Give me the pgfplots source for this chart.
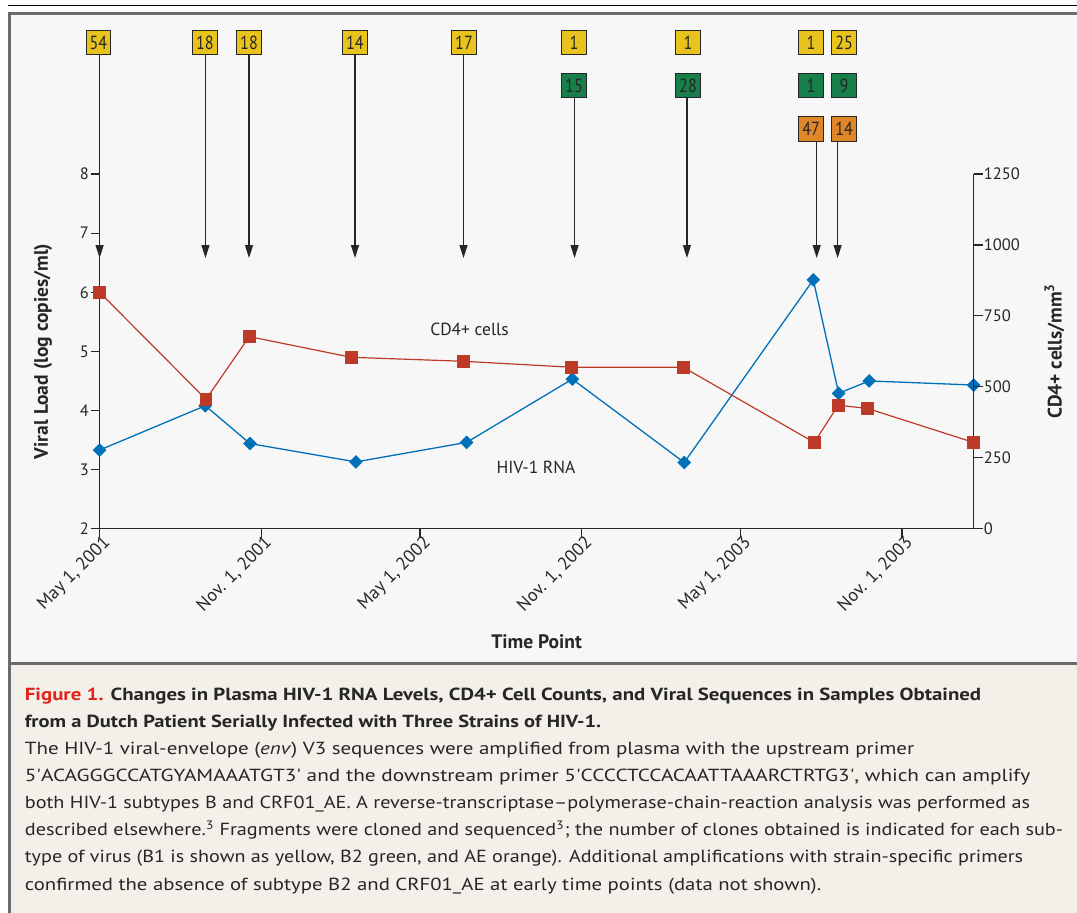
\documentclass[border=0pt]{standalone}
\usepackage{fontspec}
\setmainfont{PT Sans}
\newfontfamily\condfont[FakeStretch=0.85]{PT Sans}
\usepackage{graphicx}
\usepackage{pgfplots}
\usepackage{pgfplotstable}
\pgfplotsset{compat=1.18}
\usetikzlibrary{arrows.meta}

\definecolor{panelbg}{HTML}{F7F7F7}
\definecolor{capbg}{HTML}{F3EFE9}
\definecolor{border}{HTML}{6B6B6B}
\definecolor{cdred}{HTML}{BE3A28}
\definecolor{hivblue}{HTML}{0071B9}
\definecolor{byel}{HTML}{E9C31D}
\definecolor{bgreen}{HTML}{177F4A}
\definecolor{borange}{HTML}{DE8628}
\definecolor{figred}{HTML}{E2231A}
\definecolor{txt}{HTML}{262626}

\newcommand\tickfont{\fontsize{16.5bp}{18bp}\selectfont}
\newcommand\xtickfont{\fontsize{18bp}{20bp}\selectfont}
\newcommand\labfont{\bfseries\fontsize{19.5bp}{22bp}\selectfont}
\newcommand\plotfont{\fontsize{17.5bp}{20bp}\selectfont}
\newcommand\boxfont{\condfont\fontsize{19bp}{19bp}\selectfont}
\newcommand\capfont{\fontsize{17.5bp}{20bp}\selectfont}

\newsavebox\capbox
\newlength\caplen
\newcommand\capline[3]{%
  \node[anchor=base west,inner sep=0pt,text=txt] at (24.7bp,#2bp)
  {\sbox\capbox{\capfont #3}\setlength\caplen{\wd\capbox}%
   \pgfmathsetmacro\capsx{(#1-24.7)*1.00375/\caplen}%
   \scalebox{\capsx}[1]{\usebox\capbox}};}

\pgfplotstableread{
d v
0 3.33
120.4 4.08
171.3 3.44
292 3.13
418 3.46
538.4 4.53
665.9 3.12
812.9 6.21
841.8 4.29
876.6 4.50
995.5 4.43
}\hivdata

\pgfplotstableread{
d c
0 833
121.2 456
170.5 677
286.7 604
414.2 590
537.2 569
664.8 569
814 304
841.3 435
874.4 424
995.5 304
}\cddata

\tikzset{
  sbox/.style={draw=txt, line width=0.9bp, minimum width=24.5bp, minimum height=24.5bp,
    inner sep=0pt, font=\boxfont, text=txt},
  arr/.style={line width=1.2bp, draw=txt, -{Triangle[width=8bp,length=13bp]}}
}

\begin{document}
\begin{tikzpicture}
\fill[white] (0,0) rectangle (1077bp,913bp);
\draw[black, line width=1.4bp] (8bp,907.4bp) -- (1077bp,907.4bp);
\fill[border] (8bp,0) rectangle (1077bp,901bp);
\fill[panelbg] (11bp,251bp) rectangle (1077bp,898bp);
\fill[capbg] (11bp,0) rectangle (1077bp,248.3bp);

\begin{axis}[
  at={(99.6bp,384.3bp)}, anchor=south west,
  scale only axis, width=874bp, height=354.7bp,
  xmin=0, xmax=995.5, ymin=2, ymax=8,
  axis x line=bottom, axis y line=left,
  axis line style={-, line width=1.3bp, draw=txt},
  tick align=outside, major tick length=9bp,
  tick style={line width=1.2bp, draw=txt},
  xtick={0,184,365,549,730,914},
  xticklabels={{May 1, 2001},{Nov. 1, 2001},{May 1, 2002},{Nov. 1, 2002},{May 1, 2003},{Nov. 1, 2003}},
  ytick={2,3,4,5,6,7,8},
  ticklabel style={font=\tickfont, text=txt},
  yticklabel style={inner sep=1.5bp},
  xticklabel style={rotate=45, anchor=north east, inner sep=1bp, font=\xtickfont, xshift=5bp, yshift=2bp},
  /pgf/number format/assume math mode=true,
  clip=false,
  xlabel={Time Point},
  xlabel style={at={(axis description cs:0.5,-0.3194)}, anchor=center, font=\labfont, text=txt},
  ylabel={Viral Load (log copies/ml)},
  ylabel style={at={(axis description cs:-0.0647,0.5)}, anchor=center, font=\labfont, text=txt},
]
% arrows
\draw[arr] (axis cs:0,10.013) -- (axis cs:0,6.579);
\draw[arr] (axis cs:120.6,10.013) -- (axis cs:120.6,6.579);
\draw[arr] (axis cs:170.2,10.013) -- (axis cs:170.2,6.579);
\draw[arr] (axis cs:290.9,10.013) -- (axis cs:290.9,6.579);
\draw[arr] (axis cs:414.5,10.013) -- (axis cs:414.5,6.579);
\draw[arr] (axis cs:541,9.285) -- (axis cs:541,6.579);
\draw[arr] (axis cs:669,9.285) -- (axis cs:669,6.579);
\draw[arr] (axis cs:816.8,8.558) -- (axis cs:816.8,6.579);
\draw[arr] (axis cs:840.6,8.558) -- (axis cs:840.6,6.579);
% boxes row 1 (B1, yellow)
\node[sbox, fill=byel] at (axis cs:-1.3,10.224) {54};
\node[sbox, fill=byel] at (axis cs:120,10.224) {18};
\node[sbox, fill=byel] at (axis cs:170.2,10.224) {18};
\node[sbox, fill=byel] at (axis cs:290.9,10.224) {14};
\node[sbox, fill=byel] at (axis cs:415.1,10.224) {17};
\node[sbox, fill=byel] at (axis cs:540.4,10.224) {1};
\node[sbox, fill=byel] at (axis cs:670.2,10.224) {1};
\node[sbox, fill=byel] at (axis cs:810.4,10.224) {1};
\node[sbox, fill=byel] at (axis cs:848,10.224) {25};
% row 2 (B2, green)
\node[sbox, fill=bgreen] at (axis cs:540.4,9.495) {15};
\node[sbox, fill=bgreen] at (axis cs:670.2,9.495) {28};
\node[sbox, fill=bgreen] at (axis cs:810.4,9.495) {1};
\node[sbox, fill=bgreen] at (axis cs:848,9.495) {9};
% row 3 (AE, orange)
\node[sbox, fill=borange] at (axis cs:810.4,8.762) {47};
\node[sbox, fill=borange] at (axis cs:848,8.762) {14};

\addplot[hivblue, line width=1.3bp, mark=square*, mark size=4.2bp,
  mark options={rotate=45, fill=hivblue, draw=hivblue}] table[x=d, y=v] {\hivdata};

\node[font=\plotfont, text=txt] at (axis cs:421.3,5.366) {CD4+ cells};
\node[font=\plotfont, text=txt] at (axis cs:497.1,3.044) {HIV-1 RNA};
\end{axis}

\begin{axis}[
  at={(99.6bp,384.3bp)}, anchor=south west,
  scale only axis, width=874bp, height=354.7bp,
  xmin=0, xmax=995.5, ymin=0, ymax=1250,
  axis y line=right, axis x line=none,
  axis line style={-, line width=1.3bp, draw=txt},
  tick align=outside, major tick length=9bp,
  tick style={line width=1.2bp, draw=txt},
  ytick={0,250,500,750,1000,1250},
  ticklabel style={font=\tickfont, text=txt},
  yticklabel style={inner sep=1bp},
  /pgf/number format/assume math mode=true,
  /pgf/number format/1000 sep={},
  clip=false,
  ylabel={CD4+ cells/mm\textsuperscript{3}},
  ylabel style={at={(axis description cs:1.0926,0.5)}, anchor=center, font=\labfont, text=txt},
]
\addplot[cdred, line width=1.2bp, mark=square*, mark size=5.7bp,
  mark options={fill=cdred, draw=cdred}] table[x=d, y=c] {\cddata};
\end{axis}

\capline{981}{212}{\bfseries{\color{figred}Figure 1.} Changes in Plasma HIV-1 RNA Levels, CD4+ Cell Counts, and Viral Sequences in Samples Obtained}
\capline{601}{185}{\bfseries from a Dutch Patient Serially Infected with Three Strains of HIV-1.}
\capline{914}{158}{The HIV-1 viral-envelope (\textit{env}) V3 sequences were amplified from plasma with the upstream primer}
\capline{1030}{131}{5\textquotesingle ACAGGGCCATGYAMAAATGT3\textquotesingle{} and the downstream primer 5\textquotesingle CCCCTCCACAATTAAARCTRTG3\textquotesingle, which can amplify}
\capline{1030}{104}{both HIV-1 subtypes B and CRF01\_AE. A reverse-transcriptase--polymerase-chain-reaction analysis was performed as}
\capline{1063}{77}{described elsewhere.\textsuperscript{3} Fragments were cloned and sequenced\textsuperscript{3}; the number of clones obtained is indicated for each sub-}
\capline{1023}{50}{type of virus (B1 is shown as yellow, B2 green, and AE orange). Additional amplifications with strain-specific primers}
\capline{821}{23}{confirmed the absence of subtype B2 and CRF01\_AE at early time points (data not shown).}

\pgfresetboundingbox
\useasboundingbox (0,0) rectangle (1077bp,913bp);
\end{tikzpicture}
\end{document}
